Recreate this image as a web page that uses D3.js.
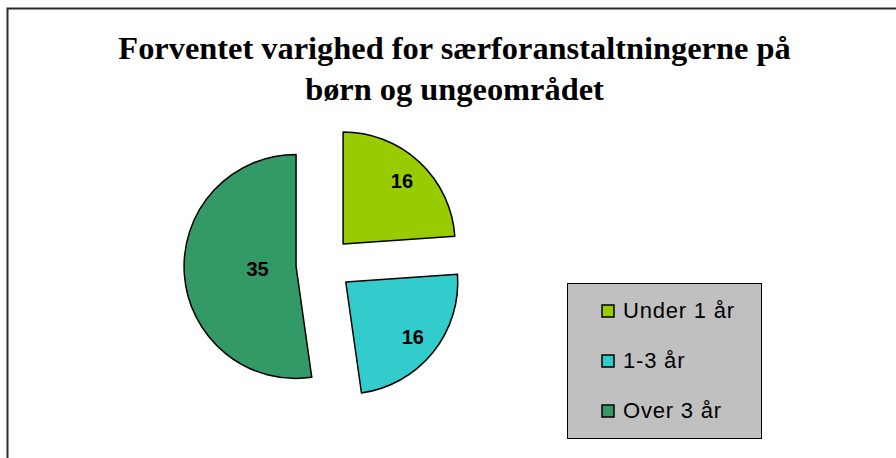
<!DOCTYPE html>
<html>
<head>
<meta charset="utf-8">
<script src="https://cdn.jsdelivr.net/npm/d3@7"></script>
<style>
  html, body { margin: 0; padding: 0; background: #fff; }
  svg { display: block; }
</style>
</head>
<body>
<svg id="chart" width="896" height="458"></svg>
<script>
// ---- data ----
const titleLines = ["Forventet varighed for særforanstaltningerne på", "børn og ungeområdet"];
const categories = ["Under 1 år", "1-3 år", "Over 3 år"];
const values = [16, 16, 35];
const colors = ["#99CC00", "#33CCCC", "#339966"];

// ---- layout ----
const W = 896, H = 458;
const svg = d3.select("#chart");

// frame (chart area border, open to right/bottom as in reference)
svg.append("path")
  .attr("d", `M7.5,${H} L7.5,8.5 L${W},8.5`)
  .attr("fill", "none")
  .attr("stroke", "#2a2a2a")
  .attr("stroke-width", 2);

// title
const titleY = d3.scalePoint().domain(d3.range(titleLines.length)).range([59, 99.5]);
svg.append("g").selectAll("text")
  .data(titleLines)
  .join("text")
  .attr("x", 454.5)
  .attr("y", (d, i) => titleY(i))
  .attr("text-anchor", "middle")
  .attr("font-family", "'Liberation Serif', 'Times New Roman', serif")
  .attr("font-weight", "bold")
  .attr("font-size", 32.4)
  .attr("fill", "#000")
  .text(d => d);

// pie
const cx = 324, cy = 264.5, r = 112, explode = 28;
const pie = d3.pie().sort(null).startAngle(0).endAngle(2 * Math.PI);
const arcs = pie(values);
const arc = d3.arc().innerRadius(0).outerRadius(r);
const color = d3.scaleOrdinal().domain(categories).range(colors);

const g = svg.append("g").attr("transform", `translate(${cx},${cy})`);
const slices = g.selectAll("g.slice")
  .data(arcs)
  .join("g")
  .attr("class", "slice")
  .attr("transform", d => {
    const a = (d.startAngle + d.endAngle) / 2;
    return `translate(${explode * Math.sin(a)},${-explode * Math.cos(a)})`;
  });

slices.append("path")
  .attr("d", arc)
  .attr("fill", (d, i) => color(categories[i]))
  .attr("stroke", "#000")
  .attr("stroke-width", 1.5)
  .attr("stroke-linejoin", "round");

slices.append("text")
  .attr("transform", d => {
    const a = (d.startAngle + d.endAngle) / 2;
    const lr = (d.endAngle - d.startAngle) > Math.PI ? r * 0.345 : r * 0.77;
    return `translate(${lr * Math.sin(a)},${-lr * Math.cos(a)})`;
  })
  .attr("text-anchor", "middle")
  .attr("dy", "0.36em")
  .attr("font-family", "'Liberation Sans', Arial, sans-serif")
  .attr("font-weight", "bold")
  .attr("font-size", 20)
  .attr("fill", "#000")
  .text(d => d.data);

// legend
const lg = svg.append("g");
lg.append("rect")
  .attr("x", 567.5).attr("y", 283.5)
  .attr("width", 194).attr("height", 155)
  .attr("fill", "#C0C0C0")
  .attr("stroke", "#000")
  .attr("stroke-width", 1);

const ly = d3.scalePoint().domain(categories).range([311, 411]);
const items = lg.selectAll("g.item")
  .data(categories)
  .join("g")
  .attr("class", "item")
  .attr("transform", d => `translate(0,${ly(d)})`);

items.append("rect")
  .attr("x", 602).attr("y", -6)
  .attr("width", 12).attr("height", 12)
  .attr("fill", d => color(d))
  .attr("stroke", "#000")
  .attr("stroke-width", 1.5);

items.append("text")
  .attr("x", 623)
  .attr("y", 7)
  .attr("font-family", "'Liberation Sans', Arial, sans-serif")
  .attr("font-size", 22)
  .attr("letter-spacing", 0.8)
  .attr("fill", "#000")
  .text(d => d);
</script>
</body>
</html>
